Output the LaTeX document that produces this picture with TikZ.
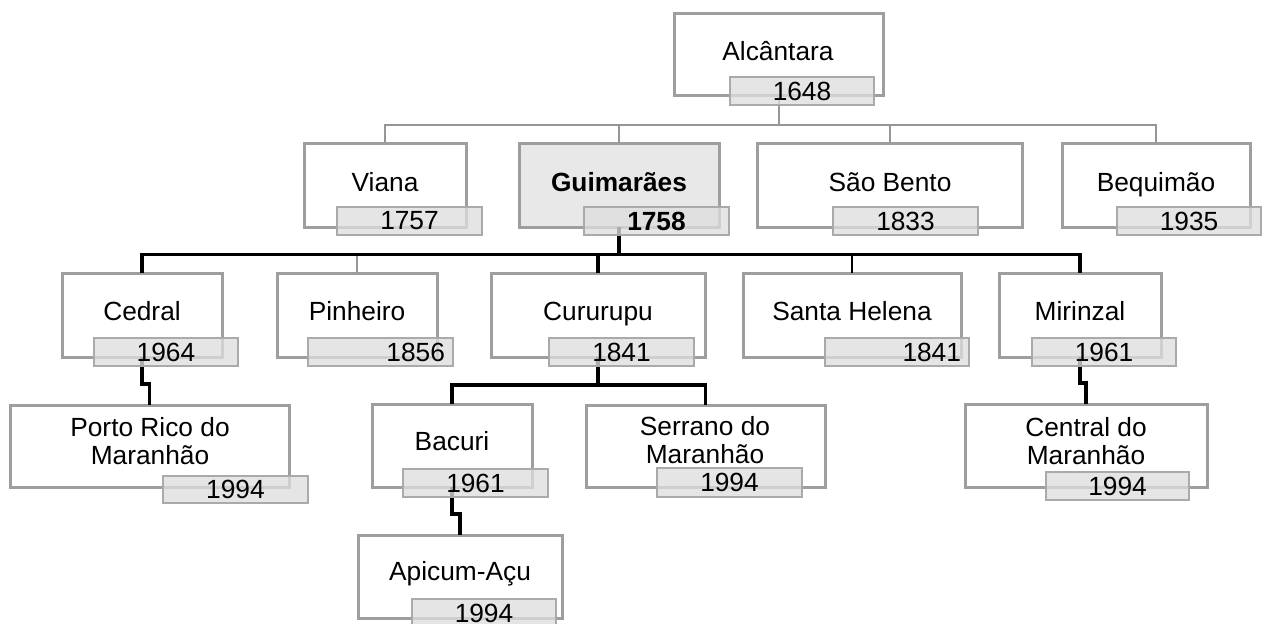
\documentclass[tikz,border=0pt]{standalone}
\usepackage{fontspec}
\setmainfont{Liberation Sans}
\definecolor{boxgray}{RGB}{158,158,158}
\definecolor{dategray}{RGB}{170,170,170}
\definecolor{datefill}{RGB}{222,222,222}
\definecolor{guimfill}{RGB}{232,232,232}
\definecolor{linegray}{RGB}{150,150,150}
\tikzset{
  mainbox/.style={draw=boxgray, line width=3pt, fill=white, inner sep=0pt, outer sep=0pt},
  datebox/.style={draw=dategray, line width=2pt, fill=datefill, fill opacity=0.78, draw opacity=1, text opacity=1, inner sep=0pt, outer sep=0pt},
  labeltext/.style={anchor=base, inner sep=0pt, align=center},
  graylink/.style={draw=linegray, line width=2pt},
  thinblack/.style={draw=black, line width=1.8pt},
  thicklink/.style={draw=black, line width=3.4pt},
}
% name, left, top, right, bottom, extra style
\newcommand{\orgbox}[6]{\node[mainbox, #6, minimum width={#4-#2}, minimum height={#5-#3}] (#1) at ({(#2+#4)/2},{(#3+#5)/2}) {};}
% name, left, top, right, bottom, text
\newcommand{\orgdate}[6]{\node[datebox, minimum width={#4-#2}, minimum height={#5-#3}] (#1) at ({(#2+#4)/2},{(#3+#5)/2}) {#6};}
\newcommand{\orgdateR}[6]{\node[datebox, minimum width={#4-#2}, minimum height={#5-#3}, text width={#4-#2-16}, align=right] (#1) at ({(#2+#4)/2},{(#3+#5)/2}) {#6};}
\begin{document}
\begin{tikzpicture}[x=1pt, y=-1pt, font=\fontsize{26.3}{27.5}\selectfont]
\useasboundingbox (0,0) rectangle (1270,624);

% ---------- boxes ----------
\orgbox{alc}{674}{13}{883}{95}{}
\orgbox{via}{304}{143}{466}{227}{}
\orgbox{gui}{519}{143}{719}{227}{fill=guimfill}
\orgbox{sbe}{757}{143}{1022}{227}{}
\orgbox{beq}{1062}{143}{1250}{227}{}
\orgbox{ced}{62}{273}{222}{357}{}
\orgbox{pin}{277}{273}{437}{357}{}
\orgbox{cur}{491}{273}{705}{357}{}
\orgbox{she}{743}{273}{961}{357}{}
\orgbox{mir}{999}{273}{1161}{357}{}
\orgbox{por}{10}{405}{289}{487}{}
\orgbox{bac}{372}{404}{532}{487}{}
\orgbox{ser}{586}{405}{825}{487}{}
\orgbox{cen}{965}{404}{1207}{487}{}
\orgbox{api}{358}{535}{562}{618}{}

% ---------- connectors ----------
\coordinate (bus1) at (0,124.5);
\coordinate (bus2) at (0,254.5);
\coordinate (bus3) at (0,385);
% level 1 (gray)
\foreach \c in {via,gui,sbe,beq}
  \draw[graylink] (alc.south) -- (alc.south |- bus1) -| (\c.north);
% level 2 thin ones first
\draw[graylink] (gui.south) -- (gui.south |- bus2) -| (pin.north);
\draw[thinblack] (gui.south) -- (gui.south |- bus2) -| (she.north);
\foreach \c in {ced,cur,mir}
  \draw[thicklink] (gui.south) -- (gui.south |- bus2) -| (\c.north);
% Cururupu children
\foreach \c in {bac,ser}
  \draw[thicklink] (cur.south) -- (cur.south |- bus3) -| (\c.north);
% stepped single links
\coordinate (stepA) at (0,384);
\coordinate (stepB) at (0,514);
\coordinate (stepC) at (0,383);
\draw[thicklink] (ced.south) -- (ced.south |- stepA) -| (por.north);
\draw[thicklink] (bac.south) -- (bac.south |- stepB) -| (api.north);
\draw[thicklink] (mir.south) -- (mir.south |- stepC) -| (cen.north);

% ---------- date boxes ----------
\orgdate{alcd}{730}{77}{874}{105}{1648}
\orgdate{viad}{337}{207}{482}{235}{1757}
\orgdate{guid}{584}{207}{729}{235}{\bfseries 1758}
\orgdate{sbed}{833}{207}{978}{235}{1833}
\orgdate{beqd}{1117}{207}{1261}{235}{1935}
\orgdate{cedd}{94}{338}{238}{366}{1964}
\orgdateR{pind}{308}{338}{453}{366}{1856}
\orgdate{curd}{549}{338}{694}{366}{1841}
\orgdateR{shed}{825}{338}{969}{366}{1841}
\orgdate{mird}{1032}{338}{1176}{366}{1961}
\orgdate{pord}{163}{476}{308}{503}{1994}
\orgdate{bacd}{403}{469}{548}{497}{1961}
\orgdate{serd}{657}{468}{802}{497}{1994}
\orgdate{cend}{1046}{472}{1189}{500}{1994}
\orgdate{apid}{412}{599}{556}{627}{1994}

% ---------- labels ----------
\node[labeltext] (alct) at (778,60) {Alcântara};
\node[labeltext] (viat) at (385,191) {Viana};
\node[labeltext] (guit) at (619,191) {\bfseries Guimarães};
\node[labeltext] (sbet) at (890,191) {São Bento};
\node[labeltext] (beqt) at (1156,191) {Bequimão};
\node[labeltext] (cedt) at (142,320) {Cedral};
\node[labeltext] (pint) at (357,320) {Pinheiro};
\node[labeltext] (curt) at (598,320) {Cururupu};
\node[labeltext] (shet) at (852,320) {Santa Helena};
\node[labeltext] (mirt) at (1080,320) {Mirinzal};
\node[labeltext] (port) at (150,464) {Porto Rico do\\Maranhão};
\node[labeltext] (bact) at (452,450) {Bacuri};
\node[labeltext] (sert) at (705,463) {Serrano do\\Maranhão};
\node[labeltext] (cent) at (1086,464) {Central do\\Maranhão};
\node[labeltext] (apit) at (460,580) {Apicum-Açu};
\end{tikzpicture}
\end{document}
